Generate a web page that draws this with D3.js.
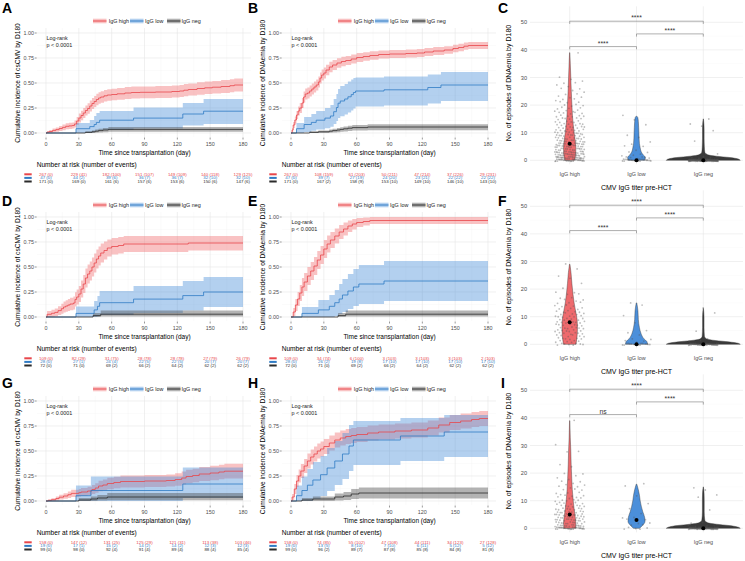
<!DOCTYPE html>
<html><head><meta charset="utf-8">
<script src="https://cdn.jsdelivr.net/npm/d3@7"></script>
<style>body{margin:0;background:#fff}svg{display:block}text{font-family:"Liberation Sans",Arial,sans-serif}</style>
</head><body><script>
// ---------------- DATA ----------------
const timeTicks=[0,30,60,90,120,150,180];
const ciTicks=[0,0.25,0.5,0.75,1];
const groupNames=["IgG high","IgG low","IgG neg"];
const episodeTicks=[0,10,20,30,40,50];

// cumulative incidence steps: [day, estimate, lower CI, upper CI]
const kmA_high=[[0,0,0,0],[1,0.008,0,0.02],[3,0.015,0.001,0.03],[6,0.026,0.008,0.045],[9,0.034,0.013,0.055],[12,0.045,0.02,0.07],[15,0.056,0.028,0.084],[18,0.067,0.037,0.097],[21,0.071,0.04,0.102],[24,0.075,0.044,0.106],[26,0.09,0.056,0.124],[28,0.12,0.08,0.16],[30,0.15,0.106,0.194],[32,0.175,0.128,0.222],[34,0.2,0.15,0.25],[36,0.225,0.174,0.276],[38,0.245,0.192,0.298],[40,0.27,0.216,0.324],[42,0.295,0.24,0.35],[44,0.315,0.26,0.37],[46,0.335,0.278,0.392],[48,0.35,0.292,0.408],[50,0.36,0.302,0.418],[53,0.372,0.314,0.43],[56,0.38,0.322,0.438],[60,0.385,0.327,0.443],[65,0.392,0.333,0.451],[72,0.4,0.341,0.459],[78,0.405,0.346,0.464],[86,0.407,0.348,0.466],[100,0.41,0.351,0.469],[115,0.415,0.355,0.475],[122,0.42,0.36,0.48],[126,0.428,0.367,0.489],[130,0.435,0.374,0.496],[138,0.445,0.383,0.507],[145,0.452,0.39,0.514],[152,0.458,0.395,0.521],[160,0.465,0.401,0.529],[168,0.473,0.408,0.538],[172,0.48,0.414,0.546]];
const kmA_low=[[0,0,0,0],[27.4,0.043,0,0.1],[40,0.064,0.005,0.13],[44,0.085,0.015,0.17],[46,0.106,0.022,0.2],[49,0.128,0.03,0.22],[80,0.149,0.045,0.255],[125,0.19,0.075,0.3],[144,0.218,0.09,0.34]];
const kmA_neg=[[0,0,0,0],[36,0.006,0,0.017],[42,0.012,0,0.026],[45,0.018,0.002,0.035],[48,0.024,0.005,0.043],[52,0.03,0.008,0.051],[57,0.036,0.012,0.06]];

const kmB_high=[[0,0,0,0],[1,0.03,0.01,0.05],[2,0.08,0.05,0.11],[3.5,0.13,0.095,0.165],[5,0.18,0.14,0.22],[6.5,0.22,0.175,0.265],[8,0.25,0.2,0.3],[10,0.3,0.25,0.35],[11.5,0.36,0.305,0.415],[13,0.39,0.335,0.445],[15,0.4,0.345,0.455],[17,0.42,0.365,0.475],[19,0.44,0.385,0.495],[21,0.46,0.405,0.515],[23,0.48,0.425,0.535],[25,0.51,0.455,0.565],[26.5,0.55,0.495,0.605],[28,0.58,0.525,0.635],[30,0.6,0.545,0.655],[32,0.63,0.577,0.683],[35,0.66,0.608,0.712],[38,0.68,0.63,0.73],[42,0.7,0.652,0.748],[46,0.715,0.668,0.762],[50,0.725,0.679,0.771],[55,0.74,0.695,0.785],[60,0.755,0.711,0.799],[66,0.765,0.722,0.808],[72,0.775,0.733,0.817],[80,0.785,0.744,0.826],[90,0.79,0.749,0.831],[105,0.795,0.755,0.835],[115,0.8,0.76,0.84],[122,0.81,0.77,0.85],[130,0.82,0.781,0.859],[140,0.83,0.792,0.868],[148,0.845,0.808,0.882],[153,0.855,0.818,0.892],[158,0.868,0.832,0.904],[162,0.875,0.84,0.91]];
const kmB_low=[[0,0,0,0],[5,0.043,0,0.1],[12,0.085,0.01,0.16],[18.6,0.106,0.022,0.19],[23,0.128,0.035,0.22],[31,0.149,0.048,0.25],[36,0.17,0.062,0.28],[39,0.213,0.09,0.34],[41.5,0.255,0.12,0.39],[43,0.298,0.15,0.44],[45,0.32,0.168,0.47],[49,0.34,0.185,0.49],[52,0.362,0.205,0.515],[55,0.384,0.225,0.535],[57,0.405,0.245,0.55],[59,0.42,0.265,0.555],[85,0.432,0.275,0.565],[125,0.455,0.295,0.585],[137,0.48,0.32,0.61]];
const kmB_neg=[[0,0,0,0],[17,0.006,0,0.017],[25,0.012,0,0.026],[35,0.018,0.002,0.035],[38,0.024,0.005,0.043],[42,0.03,0.008,0.05],[45,0.036,0.012,0.058],[48,0.042,0.016,0.066],[52,0.048,0.02,0.073],[56,0.054,0.024,0.08],[70,0.06,0.028,0.088]];

const kmD_high=[[0,0,0,0],[1,0.027,0,0.06],[5,0.037,0.003,0.072],[8,0.046,0.008,0.085],[11,0.064,0.02,0.108],[14,0.083,0.033,0.133],[16,0.1,0.045,0.155],[18,0.11,0.052,0.168],[20,0.12,0.06,0.18],[22,0.13,0.067,0.193],[25,0.14,0.074,0.206],[26.5,0.176,0.105,0.247],[28,0.2,0.125,0.275],[30,0.23,0.15,0.31],[32,0.28,0.195,0.365],[34,0.33,0.24,0.42],[36,0.39,0.295,0.485],[38,0.43,0.335,0.525],[40,0.46,0.365,0.555],[42,0.5,0.405,0.595],[44,0.54,0.445,0.635],[46,0.58,0.485,0.675],[48,0.61,0.515,0.705],[50,0.64,0.545,0.735],[53,0.665,0.575,0.755],[56,0.69,0.605,0.775],[60,0.705,0.625,0.79],[66,0.715,0.635,0.8],[71,0.73,0.65,0.81],[130,0.74,0.665,0.81]];
const kmD_low=[[0,0,0,0],[27.4,0.036,0,0.105],[44,0.071,0,0.16],[47,0.107,0.005,0.21],[49,0.143,0.02,0.26],[80,0.179,0.04,0.31],[125,0.214,0.066,0.36],[144,0.25,0.1,0.4]];
const kmD_neg=[[0,0,0,0],[43,0.014,0,0.04],[50,0.028,0.005,0.066]];

const kmE_high=[[0,0,0,0],[2,0.05,0.01,0.09],[4,0.12,0.06,0.18],[6,0.18,0.11,0.25],[8,0.24,0.16,0.32],[10,0.3,0.21,0.39],[12,0.35,0.26,0.44],[15,0.41,0.32,0.5],[18,0.46,0.37,0.55],[21,0.51,0.42,0.6],[24,0.57,0.48,0.66],[27,0.62,0.53,0.71],[30,0.68,0.59,0.77],[33,0.73,0.645,0.815],[36,0.77,0.69,0.85],[40,0.81,0.735,0.885],[44,0.85,0.78,0.92],[48,0.88,0.815,0.945],[52,0.91,0.85,0.965],[56,0.93,0.875,0.98],[60,0.945,0.9,0.99],[66,0.955,0.915,0.995],[72,0.965,0.93,1.0]];
const kmE_low=[[0,0,0,0],[10,0.036,0,0.1],[25,0.071,0,0.17],[35,0.107,0,0.22],[40,0.143,0.01,0.27],[44,0.18,0.03,0.33],[47,0.22,0.05,0.38],[52,0.26,0.08,0.43],[57,0.3,0.11,0.48],[62,0.33,0.13,0.52],[85,0.36,0.16,0.56]];
const kmE_neg=[[0,0,0,0],[43,0.014,0,0.04],[50,0.028,0.005,0.066]];

const kmG_high=[[0,0,0,0],[2,0.006,0,0.018],[5,0.013,0,0.028],[9,0.025,0.006,0.044],[12,0.038,0.014,0.062],[16,0.05,0.022,0.078],[20,0.063,0.031,0.095],[23,0.076,0.04,0.112],[30,0.083,0.045,0.121],[32,0.09,0.05,0.13],[38,0.1,0.057,0.143],[42,0.115,0.07,0.16],[45,0.13,0.082,0.178],[48,0.15,0.098,0.202],[52,0.16,0.106,0.214],[56,0.175,0.118,0.232],[62,0.185,0.127,0.243],[68,0.195,0.135,0.255],[90,0.2,0.14,0.26],[110,0.205,0.144,0.266],[118,0.215,0.152,0.278],[124,0.23,0.165,0.295],[128,0.245,0.178,0.312],[134,0.255,0.187,0.323],[140,0.27,0.2,0.34],[150,0.28,0.208,0.352],[158,0.29,0.217,0.363],[163,0.298,0.224,0.372]];
const kmG_low=[[0,0,0,0],[27.4,0.053,0,0.155],[41,0.105,0,0.245],[125,0.17,0.03,0.335]];
const kmG_neg=[[0,0,0,0],[30,0.01,0,0.03],[41,0.02,0,0.045],[47,0.03,0.005,0.06],[56,0.04,0.008,0.08]];

const kmH_high=[[0,0,0,0],[1,0.04,0.01,0.07],[3,0.12,0.07,0.17],[5,0.2,0.14,0.26],[7,0.25,0.185,0.315],[9,0.3,0.23,0.37],[12,0.35,0.28,0.42],[15,0.4,0.325,0.475],[18,0.44,0.365,0.515],[21,0.47,0.395,0.545],[24,0.5,0.425,0.575],[27,0.52,0.445,0.595],[30,0.545,0.47,0.62],[35,0.58,0.505,0.655],[40,0.61,0.535,0.685],[45,0.63,0.555,0.705],[50,0.645,0.57,0.72],[55,0.655,0.58,0.73],[60,0.665,0.59,0.74],[70,0.68,0.605,0.755],[80,0.69,0.615,0.765],[95,0.7,0.625,0.775],[110,0.71,0.635,0.785],[125,0.73,0.655,0.805],[135,0.76,0.685,0.835],[145,0.785,0.71,0.86],[155,0.8,0.725,0.875],[165,0.815,0.74,0.89],[172,0.825,0.75,0.9]];
const kmH_low=[[0,0,0,0],[5,0.053,0,0.155],[10,0.105,0,0.245],[15,0.158,0,0.32],[20,0.21,0.02,0.39],[27,0.263,0.05,0.45],[33,0.33,0.1,0.53],[40,0.4,0.16,0.6],[47,0.47,0.22,0.68],[53,0.55,0.3,0.76],[57,0.61,0.36,0.8],[100,0.65,0.4,0.83],[140,0.69,0.44,0.86]];
const kmH_neg=[[0,0,0,0],[10,0.01,0,0.03],[20,0.02,0,0.045],[40,0.04,0.005,0.075],[48,0.05,0.01,0.09],[55,0.07,0.02,0.12],[62,0.08,0.025,0.135]];

// number at risk [n, events] at timeTicks
const riskA_high=[[267,0],[229,41],[182,100],[151,107],[149,109],[140,118],[129,125]];
const riskA_low=[[47,0],[44,2],[39,6],[36,7],[36,7],[32,10],[32,10]];
const riskA_neg=[[171,0],[169,0],[161,6],[157,6],[153,6],[150,6],[147,6]];
const riskB_high=[[267,0],[108,159],[61,203],[50,211],[47,214],[37,226],[29,231]];
const riskB_low=[[47,0],[39,7],[27,19],[24,20],[23,21],[22,22],[22,22]];
const riskB_neg=[[171,0],[167,2],[158,9],[153,10],[149,10],[146,10],[143,10]];
const riskD_high=[[109,0],[82,29],[31,75],[28,78],[28,78],[27,79],[26,79]];
const riskD_low=[[28,0],[27,1],[24,4],[22,5],[22,5],[20,7],[20,7]];
const riskD_neg=[[72,0],[71,0],[69,2],[66,2],[64,2],[62,2],[62,2]];
const riskE_high=[[109,0],[34,74],[6,100],[3,103],[3,103],[3,103],[2,103]];
const riskE_low=[[28,0],[26,2],[19,8],[17,10],[17,10],[17,10],[17,10]];
const riskE_neg=[[72,0],[71,0],[69,2],[66,2],[64,2],[62,2],[62,2]];
const riskG_high=[[158,0],[147,12],[131,25],[125,29],[121,31],[113,38],[103,46]];
const riskG_low=[[19,0],[17,1],[15,2],[14,2],[14,2],[12,3],[12,3]];
const riskG_neg=[[99,0],[98,0],[92,4],[91,4],[89,4],[88,4],[85,4]];
const riskH_high=[[158,0],[74,85],[55,102],[47,108],[44,111],[34,123],[27,128]];
const riskH_low=[[19,0],[13,5],[8,10],[7,10],[6,11],[5,12],[5,12]];
const riskH_neg=[[99,0],[96,2],[89,7],[87,8],[85,8],[84,8],[81,8]];

// episodes of DNAemia: [value, number of patients]
const epiC_high=[[0,35],[1,25],[2,20],[3,18],[4,15],[5,15],[6,14],[7,12],[8,11],[9,10],[10,9],[11,8],[12,8],[13,7],[14,6],[15,6],[16,6],[17,5],[18,4],[19,4],[20,4],[21,3],[22,3],[23,3],[24,2],[25,2],[26,2],[27,2],[28,2],[29,2],[30,1],[39,1]];
const epiC_low=[[0,26],[1,6],[2,3],[3,2],[4,1],[5,2],[6,1],[7,1],[8,1],[9,1],[13,1],[15,1],[16,1]];
const epiC_neg=[[0,160],[1,4],[2,2],[7,1],[11,1],[12,1],[13,1],[15,1]];
const epiF_high=[[0,8],[1,6],[2,6],[3,6],[4,6],[5,7],[6,7],[7,7],[8,8],[9,6],[10,6],[11,5],[12,5],[13,4],[14,4],[15,3],[16,3],[17,2],[18,2],[19,2],[20,1],[22,1],[24,1],[25,1],[27,1],[29,1]];
const epiF_low=[[0,16],[1,3],[2,2],[3,1],[4,1],[5,1],[8,1],[10,1],[14,1],[15,1]];
const epiF_neg=[[0,66],[1,2],[2,1],[5,1],[11,1],[13,1]];
const epiI_high=[[0,31],[1,14],[2,12],[3,12],[4,11],[5,10],[6,9],[7,8],[8,7],[9,6],[10,5],[11,4],[12,4],[13,3],[14,3],[15,3],[16,3],[17,2],[18,2],[19,1],[20,2],[22,1],[23,1],[28,2],[30,1],[39,1]];
const epiI_low=[[0,5],[1,2],[2,2],[3,2],[4,2],[5,1],[7,1],[9,1],[12,1],[15,1],[16,1]];
const epiI_neg=[[0,88],[1,4],[2,2],[7,1],[11,1],[12,1],[14,1],[15,1]];

// violin density profiles [value, relative density]
const violinC_high=[[0,0.13],[1,0.15],[3,0.165],[5,0.165],[7,0.15],[10,0.12],[13,0.095],[16,0.075],[20,0.06],[25,0.043],[30,0.03],[35,0.016],[39,0.004]];
const violinC_low=[[0,0.22],[1,0.24],[2,0.18],[3,0.13],[4.5,0.1],[6,0.08],[8,0.07],[10,0.065],[12,0.058],[14,0.05],[15.5,0.035],[16,0.008]];
const violinC_neg=[[0,1],[0.5,0.94],[1,0.72],[1.5,0.35],[2,0.12],[3,0.04],[5,0.028],[8,0.022],[11,0.022],[13,0.018],[15,0.004]];
const violinF_high=[[0,0.17],[3,0.2],[6,0.21],[9,0.2],[12,0.16],[15,0.12],[18,0.09],[22,0.06],[26,0.035],[29,0.006]];
const violinF_low=[[0,0.3],[1,0.28],[2,0.2],[4,0.12],[6,0.08],[9,0.05],[12,0.04],[15,0.008]];
const violinF_neg=[[0,1],[0.5,0.9],[1,0.6],[1.5,0.25],[2,0.08],[3,0.03],[6,0.02],[10,0.02],[13,0.004]];
const violinI_high=[[0,0.16],[2,0.165],[4,0.15],[7,0.12],[10,0.095],[14,0.07],[18,0.055],[23,0.04],[28,0.03],[33,0.015],[39,0.004]];
const violinI_low=[[0,0.08],[1,0.16],[2.5,0.23],[4,0.22],[6,0.17],[8,0.13],[10,0.1],[12,0.08],[14,0.05],[16,0.008]];
const violinI_neg=[[0,1],[0.5,0.92],[1,0.7],[1.5,0.35],[2,0.12],[3,0.04],[6,0.025],[10,0.025],[13,0.02],[15,0.004]];

const medianC=[6,0,0], medianF=[8,0,0], medianI=[5,3,0];
// comparisons: [group a, group b, bracket height (episodes), label]
const bracketsC=[[0,2,50.4,"****"],[1,2,45.8,"****"],[0,1,41.2,"****"]];
const bracketsF=[[0,2,50.4,"****"],[1,2,45.8,"****"],[0,1,41.2,"****"]];
const bracketsI=[[0,2,50.4,"****"],[1,2,45.8,"****"],[0,1,41.2,"ns"]];

// ---------------- STYLE / LAYOUT ----------------
const lineCol=["#E8464B","#2F7BC4","#2B2B2B"];
const bandCol=["#F06D70","#4A90D9","#4A4A4A"];
const violinCol=["#EE6A6D","#4B8FDA","#3A3A3A"];
const rowOff=[0,184,368], colOff=[0,245];
const letterBase=[13,205.5,388];
const W=745,H=561;
const svg=d3.select("body").append("svg").attr("width",W).attr("height",H);

function txt(g,x,y,s,size,opt={}){
  const t=g.append("text").attr("x",x).attr("y",y).text(s).attr("font-size",size)
    .attr("fill",opt.fill||"#000").attr("text-anchor",opt.anchor||"start");
  if(opt.base) t.attr("dominant-baseline",opt.base);
  if(opt.weight) t.attr("font-weight",opt.weight);
  if(opt.rot) t.attr("transform",`rotate(${opt.rot},${x},${y})`);
  return t;
}
function line(g,x1,y1,x2,y2,col,w){g.append("line").attr("x1",x1).attr("y1",y1).attr("x2",x2).attr("y2",y2).attr("stroke",col).attr("stroke-width",w);}

const kmPanels=[
 {letter:"A",row:0,col:0,ylab:"Cumulative incidence of csCMV by D180",series:[kmA_high,kmA_low,kmA_neg],risk:[riskA_high,riskA_low,riskA_neg]},
 {letter:"B",row:0,col:1,ylab:"Cumulative incidence of DNAemia by D180",series:[kmB_high,kmB_low,kmB_neg],risk:[riskB_high,riskB_low,riskB_neg]},
 {letter:"D",row:1,col:0,ylab:"Cumulative incidence of csCMV by D180",series:[kmD_high,kmD_low,kmD_neg],risk:[riskD_high,riskD_low,riskD_neg]},
 {letter:"E",row:1,col:1,ylab:"Cumulative incidence of DNAemia by D180",series:[kmE_high,kmE_low,kmE_neg],risk:[riskE_high,riskE_low,riskE_neg]},
 {letter:"G",row:2,col:0,ylab:"Cumulative incidence of csCMV by D180",series:[kmG_high,kmG_low,kmG_neg],risk:[riskG_high,riskG_low,riskG_neg]},
 {letter:"H",row:2,col:1,ylab:"Cumulative incidence of DNAemia by D180",series:[kmH_high,kmH_low,kmH_neg],risk:[riskH_high,riskH_low,riskH_neg]}
];

function extend(arr){const a=arr.slice();const l=a[a.length-1];if(l[0]<180)a.push([180,l[1],l[2],l[3]]);return a;}

function drawKM(p){
  const cx=colOff[p.col], ry=rowOff[p.row];
  const g=svg.append("g");
  const x=d3.scaleLinear().domain([0,180]).range([46+cx,243+cx]);
  const y=d3.scaleLinear().domain([0,1]).range([133+ry,33+ry]);
  const L=x(0)-9, R=x(180)+8, T=y(1)-5, B=y(0)+4;
  d3.range(0.125,1,0.25).forEach(v=>line(g,L,y(v),R,y(v),"#F2F2F2",0.35));
  d3.range(15,180,30).forEach(v=>line(g,x(v),T,x(v),B,"#F2F2F2",0.35));
  ciTicks.forEach(v=>line(g,L,y(v),R,y(v),"#E6E6E6",0.6));
  timeTicks.forEach(v=>line(g,x(v),T,x(v),B,"#E6E6E6",0.6));
  ciTicks.forEach(v=>{line(g,L-2.3,y(v),L-0.3,y(v),"#333",0.5);
    txt(g,L-3,y(v),d3.format(".2f")(v),5.4,{anchor:"end",base:"central",fill:"#4D4D4D"});});
  timeTicks.forEach(v=>{line(g,x(v),B+0.5,x(v),B+2.5,"#333",0.5);
    txt(g,x(v),146+ry,String(v),5.4,{anchor:"middle",fill:"#4D4D4D"});});
  txt(g,17.5+cx,83+ry,p.ylab,6.6,{anchor:"middle",base:"central",rot:-90});
  txt(g,x(90),154.5+ry,"Time since transplantation (day)",6.5,{anchor:"middle"});
  const area=d3.area().curve(d3.curveStepAfter).x(d=>x(d[0])).y0(d=>y(d[2])).y1(d=>y(d[3]));
  const ln=d3.line().curve(d3.curveStepAfter).x(d=>x(d[0])).y(d=>y(d[1]));
  p.series.forEach((s,i)=>g.append("path").attr("d",area(extend(s))).attr("fill",bandCol[i]).attr("fill-opacity",0.42));
  p.series.forEach((s,i)=>g.append("path").attr("d",ln(extend(s))).attr("fill","none").attr("stroke",lineCol[i]).attr("stroke-width",0.8));
  txt(g,x(0)+0.5,40+ry,"Log-rank",5.4,{fill:"#222"});
  txt(g,x(0)+0.5,46.5+ry,"p < 0.0001",5.4,{fill:"#222"});
  const lx=[93,130,167], tx=[108.7,145,181.5], ly=21+ry;
  groupNames.forEach((nm,i)=>{
    g.append("rect").attr("x",lx[i]+cx).attr("y",ly-2.3).attr("width",13.5).attr("height",4.6).attr("fill",bandCol[i]).attr("fill-opacity",0.42);
    line(g,lx[i]+cx,ly,lx[i]+13.5+cx,ly,lineCol[i],1);
    txt(g,tx[i]+cx,ly,nm,5.4,{base:"central",fill:"#222"});
  });
  txt(g,(p.col?248:2),letterBase[p.row],p.letter,14,{weight:"bold"});
  txt(g,36.7+cx,166.5+ry,"Number at risk (number of events)",6.6);
  const rys=[174.3,177.9,181.5];
  p.risk.forEach((r,gi)=>{
    const yy=rys[gi]+ry;
    g.append("rect").attr("x",24.3+cx).attr("y",yy-1).attr("width",7.4).attr("height",2).attr("fill",lineCol[gi]);
    r.forEach((d,j)=>txt(g,x(timeTicks[j]),yy,`${d[0]} (${d[1]})`,4.4,{anchor:"middle",base:"central",fill:lineCol[gi]}));
  });
}
kmPanels.forEach(drawKM);

const violinPanels=[
 {letter:"C",row:0,points:[epiC_high,epiC_low,epiC_neg],shapes:[violinC_high,violinC_low,violinC_neg],med:medianC,br:bracketsC},
 {letter:"F",row:1,points:[epiF_high,epiF_low,epiF_neg],shapes:[violinF_high,violinF_low,violinF_neg],med:medianF,br:bracketsF},
 {letter:"I",row:2,points:[epiI_high,epiI_low,epiI_neg],shapes:[violinI_high,violinI_low,violinI_neg],med:medianI,br:bracketsI}
];
function drawViolin(p){
  const ry=rowOff[p.row];
  const g=svg.append("g");
  const x=d3.scalePoint().domain(groupNames).range([569.7,703.3]);
  const y=d3.scaleLinear().domain([0,50]).range([160.3+ry,22.3+ry]);
  const w=d3.scaleLinear().domain([0,1]).range([0,37]);
  const L=530,R=743,T=y(50)-16,B=y(0)+4;
  d3.range(5,50,10).forEach(v=>line(g,L,y(v),R,y(v),"#F2F2F2",0.35));
  episodeTicks.forEach(v=>line(g,L,y(v),R,y(v),"#E6E6E6",0.6));
  groupNames.forEach(n=>line(g,x(n),T,x(n),B,"#E6E6E6",0.6));
  episodeTicks.forEach(v=>txt(g,527,y(v),String(v),5.6,{anchor:"end",base:"central",fill:"#4D4D4D"}));
  groupNames.forEach(n=>txt(g,x(n),175.5+ry,n,5.4,{anchor:"middle",fill:"#4D4D4D"}));
  txt(g,636.5,189.5+ry,"CMV IgG titer pre-HCT",7,{anchor:"middle"});
  txt(g,508.5,83+ry,"No. of episodes of DNAemia by D180",7,{anchor:"middle",base:"central",rot:-90});
  p.shapes.forEach((s,i)=>{
    const cxp=x(groupNames[i]);
    const a=d3.area().curve(d3.curveMonotoneY).y(d=>y(d[0])).x0(d=>cxp-w(d[1])).x1(d=>cxp+w(d[1]));
    g.append("path").attr("d",a(s)).attr("fill",violinCol[i]).attr("stroke","#333").attr("stroke-width",0.4);
  });
  p.points.forEach((grp,i)=>{
    const cxp=x(groupNames[i]); let k=0;
    grp.forEach(([v,c])=>{for(let j=0;j<c;j++){k++;
      const jx=(((k*0.6180339887)%1)*2-1)*15;
      const jy=((((k*0.7548776662)+0.37)%1)*2-1)*0.4;
      g.append("circle").attr("cx",cxp+jx).attr("cy",y(v+jy)).attr("r",0.9).attr("fill","#555").attr("fill-opacity",0.38);
    }});
  });
  p.med.forEach((m,i)=>g.append("circle").attr("cx",x(groupNames[i])).attr("cy",y(m)).attr("r",2).attr("fill","#000"));
  p.br.forEach(([a,b,h,lab])=>{
    const x1=x(groupNames[a]),x2=x(groupNames[b]),yy=y(h);
    g.append("path").attr("d",`M${x1},${yy+2.7}V${yy}H${x2}V${yy+2.7}`).attr("fill","none").attr("stroke","#777").attr("stroke-width",0.6);
    txt(g,(x1+x2)/2,yy-1,lab,6.8,{anchor:"middle",fill:"#333"});
  });
  txt(g,p.letter==="I"?501:498,letterBase[p.row],p.letter,14,{weight:"bold"});
}
violinPanels.forEach(drawViolin);
</script></body></html>
